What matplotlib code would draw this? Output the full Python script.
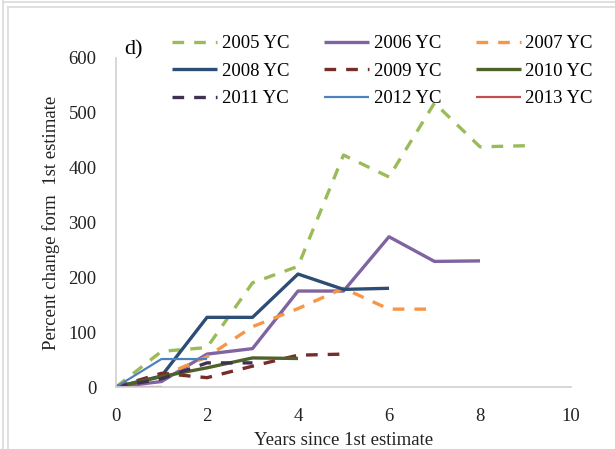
import matplotlib
matplotlib.use("Agg")
import matplotlib.pyplot as plt
from matplotlib.lines import Line2D

plt.rcParams['font.family'] = ['Liberation Serif', 'DejaVu Serif']

# percent change from 1st estimate, per year class
years = [0, 1, 2, 3, 4, 5, 6, 7, 8, 9]
labels = ['2005 YC', '2006 YC', '2007 YC', '2008 YC', '2009 YC',
          '2010 YC', '2011 YC', '2012 YC', '2013 YC']
yc2005 = [0, 65, 72, 190, 220, 423, 383, 518, 438, 440]
yc2006 = [0, 10, 60, 70, 175, 175, 274, 229, 230]
yc2007 = [0, 20, 55, 110, 143, 180, 142, 142]
yc2008 = [0, 20, 127, 127, 206, 178, 180]
yc2009 = [0, 25, 17, 38, 58, 60]
yc2010 = [0, 19, 35, 53, 52]
yc2011 = [0, 15, 44, 44]
yc2012 = [0, 51, 51]
yc2013 = [0, 0]

series = [yc2005, yc2006, yc2007, yc2008, yc2009, yc2010, yc2011, yc2012, yc2013]
colors = ['#9BBB59', '#8064A2', '#F79646', '#2C4D75', '#772C2A',
          '#4F6228', '#403152', '#4F81BD', '#C0504D']
dashed = [True, False, True, False, True, False, True, False, False]
widths = [2.4, 2.4, 2.4, 2.4, 2.4, 2.4, 2.4, 1.6, 1.6]

fig = plt.figure(figsize=(6.15, 4.49), dpi=100)
ax = fig.add_axes([116 / 615, 62 / 449, 455 / 615, 329 / 449])

handles = []
for vals, lab, c, d, w in zip(series, labels, colors, dashed, widths):
    ls = (0, (3.5, 3)) if d else '-'
    h, = ax.plot(years[:len(vals)], vals, color=c, lw=w, ls=ls, label=lab,
                 solid_capstyle='butt', dash_capstyle='butt')
    handles.append(h)

ax.set_xlim(0, 10)
ax.set_ylim(0, 600)
ax.set_xticks(range(0, 11, 2))
ax.set_yticks(range(0, 601, 100))
ax.tick_params(length=0, labelsize=13.5, colors='#222222')
ax.tick_params(axis='y', pad=14)
ax.tick_params(axis='x', pad=15)
for s in ['top', 'right']:
    ax.spines[s].set_visible(False)
for s in ['left', 'bottom']:
    ax.spines[s].set_color('#D0D0D0')
    ax.spines[s].set_linewidth(1.2)

ax.set_xlabel('Years since 1st estimate', fontsize=13.5, labelpad=5, color='#222222')
ax.set_ylabel('Percent change form  1st estimate', fontsize=13.5, labelpad=6, color='#222222')

fig.text(124 / 615, 1 - 50 / 449, 'd)', fontsize=16, ha='left', va='center')

# legend fills row by row in the reference
order = [0, 3, 6, 1, 4, 7, 2, 5, 8]
ax.legend([handles[i] for i in order], [labels[i] for i in order],
          ncol=3, loc='upper left', bbox_to_anchor=(172 / 615, 1 - 35 / 449),
          bbox_transform=fig.transFigure, frameon=False, fontsize=13.5,
          handlelength=2.4, handletextpad=0.25, columnspacing=1.85,
          labelspacing=0.56, borderpad=0, borderaxespad=0)

# chart border lines
for xy in [((3 / 615, 3 / 615), (0, 1)), ((8 / 615, 8 / 615), (0, 1 - 7 / 449)),
           ((3 / 615, 1), (1 - 2 / 449, 1 - 2 / 449)), ((8 / 615, 1), (1 - 7 / 449, 1 - 7 / 449))]:
    fig.add_artist(Line2D(xy[0], xy[1], color='#DADADA', lw=1.2))

fig.savefig('out.png', dpi=100)
